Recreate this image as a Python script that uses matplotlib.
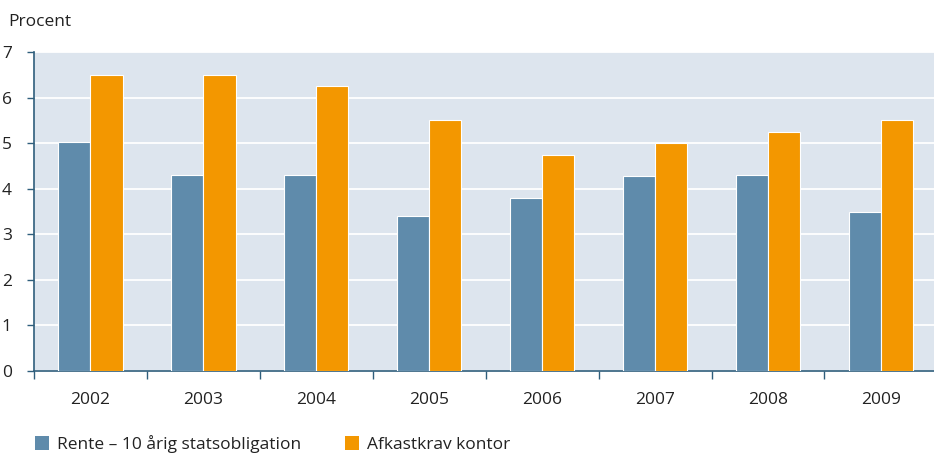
import matplotlib.pyplot as plt
import numpy as np
from matplotlib.patches import Patch

plt.rcParams['font.family'] = ['Open Sans', 'DejaVu Sans']

# data
years = ['2002', '2003', '2004', '2005', '2006', '2007', '2008', '2009']
rente = [5.03, 4.3, 4.3, 3.4, 3.8, 4.28, 4.3, 3.48]
afkast = [6.5, 6.5, 6.25, 5.5, 4.75, 5.0, 5.25, 5.5]
labels = ['Rente – 10 årig statsobligation', 'Afkastkrav kontor']

blue = '#5f8bab'
orange = '#f39700'
bg = '#dde5ee'
axcol = '#2f5e7c'
txt = '#222222'
fs = 12.5

fig = plt.figure(figsize=(9.34, 4.55), dpi=100)
ax = fig.add_axes([34 / 934, 1 - 371 / 455, 900 / 934, 319 / 455])
ax.set_facecolor(bg)

x = np.arange(len(years))
w = 0.285
ax.bar(x - w / 2, rente, w, color=blue, edgecolor='white', linewidth=0.8, zorder=3)
ax.bar(x + w / 2, afkast, w, color=orange, edgecolor='white', linewidth=0.8, zorder=3)

ax.set_ylim(0, 7)
ax.set_xlim(-0.5, len(years) - 0.53)
ax.set_yticks(range(0, 8))
ax.yaxis.grid(True, color='white', linewidth=1.3, zorder=1)
ax.set_axisbelow(True)

ax.set_xticks(x)
ax.set_xticklabels(years)
ax.set_xticks(np.arange(-0.5, len(years) - 1), minor=True)
ax.tick_params(axis='x', which='major', length=0, pad=15, labelsize=fs, labelcolor=txt)
ax.tick_params(axis='x', which='minor', length=6, width=1, color=axcol, direction='out')
ax.tick_params(axis='y', length=5, width=1, color=axcol, direction='out', pad=11,
               labelsize=fs, labelcolor=txt)

for s in ['top', 'right']:
    ax.spines[s].set_visible(False)
for s in ['left', 'bottom']:
    ax.spines[s].set_color(axcol)
    ax.spines[s].set_linewidth(1.2)

fig.text(8 / 934, 1 - 22 / 455, 'Procent', fontsize=fs, color=txt, va='center', ha='left')

handles = [Patch(facecolor=blue, edgecolor='none'), Patch(facecolor=orange, edgecolor='none')]
fig.legend(handles, labels, loc='center left', bbox_to_anchor=(19 / 934, 1 - 444 / 455),
           ncol=2, frameon=False, fontsize=fs, handlelength=0.85, handleheight=0.85,
           handletextpad=0.45, columnspacing=2.5, labelcolor=txt)

fig.savefig('out.png', dpi=100)
